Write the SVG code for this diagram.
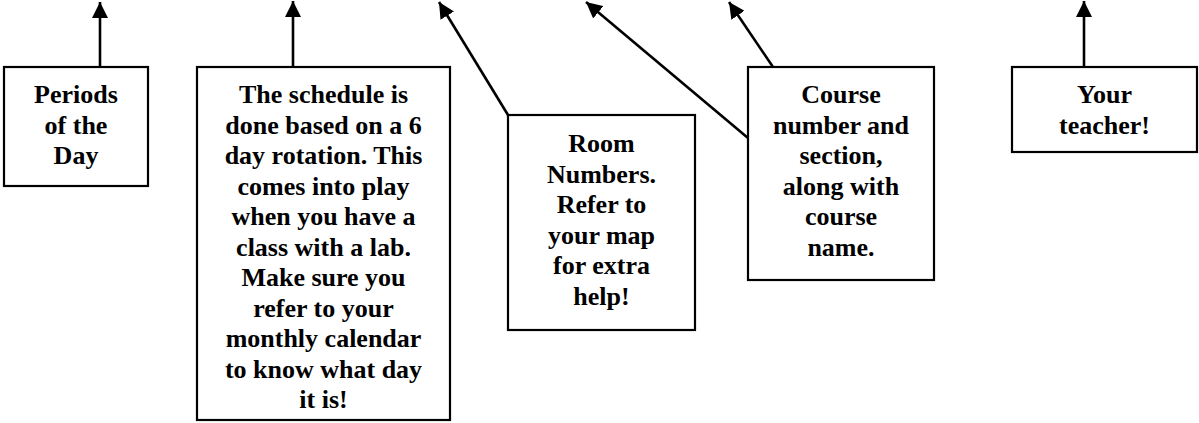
<svg xmlns="http://www.w3.org/2000/svg" width="1199" height="423" viewBox="0 0 1199 423">
<style>
.box{fill:#fff;stroke:#000;stroke-width:2.2}
.t{font-family:"Liberation Serif","Times New Roman",serif;font-weight:bold;font-size:26px;fill:#000;text-anchor:middle}
.c{stroke:#000;stroke-width:2.6;fill:none;marker-end:url(#ah)}
</style>
<defs>
<marker id="ah" markerUnits="userSpaceOnUse" markerWidth="18" markerHeight="16" refX="16" refY="8" orient="auto">
<path d="M0,0 L16,8 L0,16 Z" fill="#000"/>
</marker>
</defs>
<rect width="1199" height="423" fill="#fff"/>
<g id="connectors">
<line class="c" x1="100" y1="67" x2="100" y2="2"/>
<line class="c" x1="293" y1="67" x2="293" y2="1"/>
<line class="c" x1="508" y1="115" x2="439" y2="2"/>
<line class="c" x1="748" y1="138" x2="586" y2="2"/>
<line class="c" x1="773" y1="67" x2="729" y2="2"/>
<line class="c" x1="1084" y1="67" x2="1084" y2="1"/>
</g>
<g id="periods">
<rect class="box" x="4" y="67" width="144" height="119"/>
<text class="t" x="76" y="103">Periods</text>
<text class="t" x="76" y="133.5">of the</text>
<text class="t" x="76" y="164">Day</text>
</g>
<g id="schedule">
<rect class="box" x="197" y="67" width="253" height="353"/>
<text class="t" x="323.5" y="103">The schedule is</text>
<text class="t" x="323.5" y="133.5">done based on a 6</text>
<text class="t" x="323.5" y="164">day rotation. This</text>
<text class="t" x="323.5" y="194.5">comes into play</text>
<text class="t" x="323.5" y="225">when you have a</text>
<text class="t" x="323.5" y="255.5">class with a lab.</text>
<text class="t" x="323.5" y="286">Make sure you</text>
<text class="t" x="323.5" y="316.5">refer to your</text>
<text class="t" x="323.5" y="347">monthly calendar</text>
<text class="t" x="323.5" y="377.5">to know what day</text>
<text class="t" x="323.5" y="408">it is!</text>
</g>
<g id="room">
<rect class="box" x="508" y="115" width="187" height="215"/>
<text class="t" x="601.5" y="152">Room</text>
<text class="t" x="601.5" y="182.5">Numbers.</text>
<text class="t" x="601.5" y="213">Refer to</text>
<text class="t" x="601.5" y="243.5">your map</text>
<text class="t" x="601.5" y="274">for extra</text>
<text class="t" x="601.5" y="304.5">help!</text>
</g>
<g id="course">
<rect class="box" x="748" y="67" width="186" height="213"/>
<text class="t" x="841" y="103">Course</text>
<text class="t" x="841" y="133.5">number and</text>
<text class="t" x="841" y="164">section,</text>
<text class="t" x="841" y="194.5">along with</text>
<text class="t" x="841" y="225">course</text>
<text class="t" x="841" y="255.5">name.</text>
</g>
<g id="teacher">
<rect class="box" x="1012" y="67" width="185" height="85"/>
<text class="t" x="1104.5" y="103">Your</text>
<text class="t" x="1104.5" y="133.5">teacher!</text>
</g>
</svg>
